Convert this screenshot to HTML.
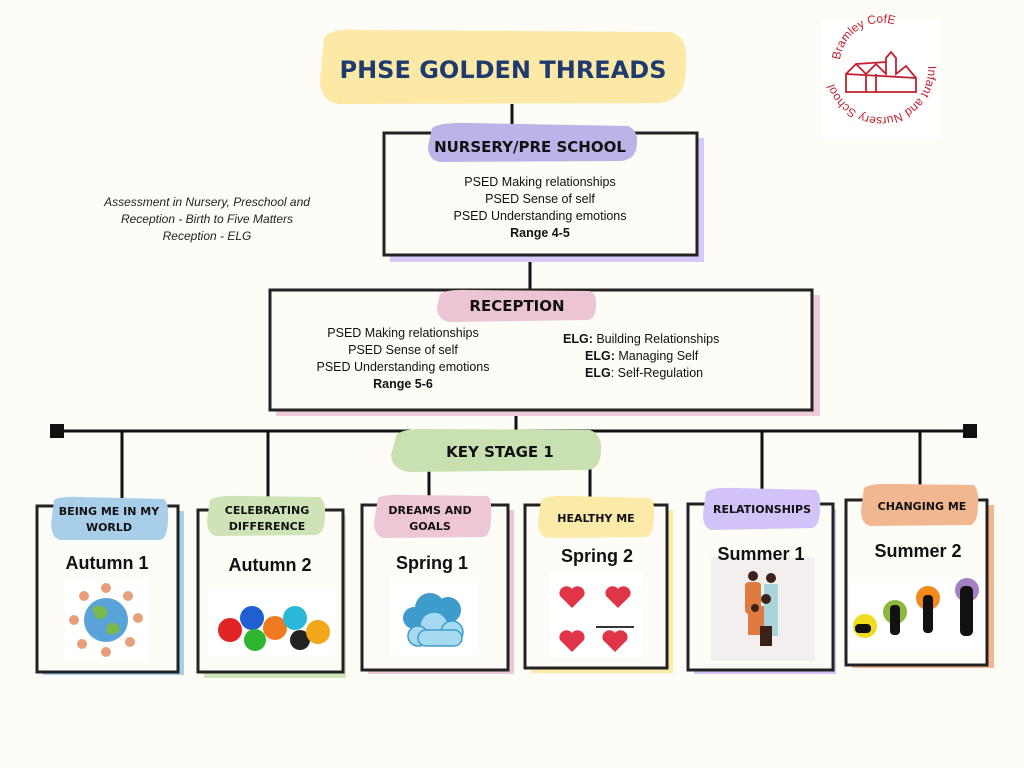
<!DOCTYPE html>
<html><head><meta charset="utf-8"><style>
html,body{margin:0;padding:0;background:#fdfcf6;}
svg{display:block}
.h{font-family:"DejaVu Sans","Liberation Sans",sans-serif;font-weight:bold;fill:#111;}
.b{font-family:"Liberation Sans",sans-serif;fill:#111;}
</style></head><body>
<svg width="1024" height="768" viewBox="0 0 1024 768" xmlns="http://www.w3.org/2000/svg">
<rect width="1024" height="768" fill="#fdfcf6"/>
<g stroke="#111" stroke-width="3" fill="none">
<line x1="512" y1="104" x2="512" y2="133"/>
<line x1="530" y1="256" x2="530" y2="290"/>
<line x1="516" y1="410" x2="516" y2="431"/>
<line x1="57" y1="431" x2="970" y2="431"/>
<line x1="122" y1="431" x2="122" y2="507"/>
<line x1="268" y1="431" x2="268" y2="510"/>
<line x1="429" y1="431" x2="429" y2="505"/>
<line x1="590" y1="431" x2="590" y2="505"/>
<line x1="762" y1="431" x2="762" y2="504"/>
<line x1="920" y1="431" x2="920" y2="500"/>
</g>
<rect x="50" y="424" width="14" height="14" fill="#111"/>
<rect x="963" y="424" width="14" height="14" fill="#111"/>

<path d="M324 38 Q330 28 360 30 L670 32 Q688 36 686 62 Q688 100 660 103 L340 104 Q320 102 320 80 Z" fill="#fbe9a5"/>
<text x="503" y="78" text-anchor="middle" class="h" style="fill:#1f3a6e;font-size:24px;">PHSE GOLDEN THREADS</text>

<rect x="822" y="20" width="118" height="118" fill="#fff"/>
<g fill="none" stroke="#c3202f" stroke-width="1.8">
<path d="M846 92 L846 74 L856 64 L866 74 L876 64 L886 74 L886 58 L891 52 L896 58 L896 74 L906 66 L916 78 L916 92 Z"/>
<path d="M856 64 L886 62 M866 74 L866 92 M876 74 L876 92 M846 74 L916 78"/>
</g>
<path id="arc1" d="M840 70 A42 42 0 0 1 924 60" fill="none"/>
<text font-family="Liberation Sans,sans-serif" font-size="12" fill="#c3202f"><textPath href="#arc1" startOffset="10">Bramley CofE</textPath></text>
<path id="arc2" d="M928 66 A48 48 0 0 1 832 72" fill="none"/>
<text font-family="Liberation Sans,sans-serif" font-size="12" fill="#c3202f"><textPath href="#arc2">Infant and Nursery School</textPath></text>

<g font-family="Liberation Sans,sans-serif" font-style="italic" font-size="12" fill="#222" text-anchor="middle">
<text x="207" y="206">Assessment in Nursery, Preschool and</text>
<text x="207" y="223">Reception - Birth to Five Matters</text>
<text x="207" y="240">Reception - ELG</text>
</g>

<rect x="390" y="138" width="314" height="124" fill="#d6c8fb"/>
<rect x="384" y="133" width="313" height="122" fill="#fdfcf6" stroke="#222" stroke-width="3"/>
<path d="M432 128 Q440 122 470 123 L628 126 Q638 130 637 144 Q636 160 620 161 L440 162 Q428 160 428 146 Z" fill="#bcb4e8"/>
<text x="530" y="152" text-anchor="middle" class="h" style="font-size:15px;">NURSERY/PRE SCHOOL</text>
<g font-size="12.5" text-anchor="middle">
<text x="540" y="186" class="b">PSED Making relationships</text>
<text x="540" y="203" class="b">PSED Sense of self</text>
<text x="540" y="220" class="b">PSED Understanding emotions</text>
<text x="540" y="237" class="b" font-weight="bold">Range 4-5</text>
</g>

<rect x="276" y="295" width="544" height="121" fill="#efcbd9"/>
<rect x="270" y="290" width="542" height="120" fill="#fdfcf6" stroke="#222" stroke-width="3"/>
<path d="M440 294 Q446 289 470 290 L590 291 Q597 294 596 305 Q596 318 588 320 L450 322 Q437 320 437 307 Z" fill="#ecc4d4"/>
<text x="517" y="311" text-anchor="middle" class="h" style="font-size:15px;">RECEPTION</text>
<g font-size="12.5" text-anchor="middle">
<text x="403" y="337" class="b">PSED Making relationships</text>
<text x="403" y="354" class="b">PSED Sense of self</text>
<text x="403" y="371" class="b">PSED Understanding emotions</text>
<text x="403" y="388" class="b" font-weight="bold">Range 5-6</text>
</g>
<g font-size="12.5">
<text x="563" y="343" class="b"><tspan font-weight="bold">ELG:</tspan> Building Relationships</text>
<text x="585" y="360" class="b"><tspan font-weight="bold">ELG:</tspan> Managing Self</text>
<text x="585" y="377" class="b"><tspan font-weight="bold">ELG</tspan>: Self-Regulation</text>
</g>

<path d="M396 436 Q400 428 430 429 L590 430 Q602 434 601 450 Q601 468 588 470 L410 472 Q392 470 391 455 Z" fill="#c9e0b0"/>
<text x="500" y="457" text-anchor="middle" class="h" style="font-size:15px;">KEY STAGE 1</text>

<g>
<rect x="43" y="511" width="141" height="164" fill="#a8cfea"/>
<rect x="37" y="506" width="141" height="166" fill="#fdfcf6" stroke="#222" stroke-width="3"/>
<path d="M54 500 Q60 496 80 497 L164 499 Q169 503 168 518 Q168 538 160 540 L60 540 Q52 538 51 525 Z" fill="#a8cfea"/>
<text x="109" y="515" text-anchor="middle" class="h" style="font-size:11px;">BEING ME IN MY</text>
<text x="109" y="531" text-anchor="middle" class="h" style="font-size:11px;">WORLD</text>
<text x="107" y="569" text-anchor="middle" class="b" style="font-size:18px;font-weight:bold;">Autumn 1</text>
<rect x="65" y="580" width="83" height="80" fill="#fff"/>
<circle cx="106" cy="620" r="22" fill="#5aa3d9"/><path d="M92 608 q10 -6 16 4 q-4 10 -12 6 z M108 624 q10 -4 12 6 q-8 8 -14 2 z" fill="#79b84a"/>
<g fill="#e8a07a"><circle cx="106" cy="588" r="5"/><circle cx="128" cy="596" r="5"/><circle cx="138" cy="618" r="5"/><circle cx="130" cy="642" r="5"/><circle cx="106" cy="652" r="5"/><circle cx="82" cy="644" r="5"/><circle cx="74" cy="620" r="5"/><circle cx="84" cy="596" r="5"/></g>
</g>

<g>
<rect x="204" y="515" width="142" height="163" fill="#cfe4b6"/>
<rect x="198" y="510" width="145" height="162" fill="#fdfcf6" stroke="#222" stroke-width="3"/>
<path d="M210 500 Q216 495 240 496 L320 497 Q326 502 325 515 Q325 533 316 535 L216 536 Q207 534 207 520 Z" fill="#cfe4b6"/>
<text x="267" y="514" text-anchor="middle" class="h" style="font-size:11px;">CELEBRATING</text>
<text x="267" y="530" text-anchor="middle" class="h" style="font-size:11px;">DIFFERENCE</text>
<text x="270" y="571" text-anchor="middle" class="b" style="font-size:18px;font-weight:bold;">Autumn 2</text>
<rect x="208" y="590" width="127" height="65" fill="#fff"/>
<circle cx="230" cy="630" r="12" fill="#e02424"/><circle cx="252" cy="618" r="12" fill="#1f5fd0"/><circle cx="255" cy="640" r="11" fill="#2fb52f"/><circle cx="275" cy="628" r="12" fill="#f07a20"/><circle cx="295" cy="618" r="12" fill="#2ab7d8"/><circle cx="300" cy="640" r="10" fill="#222"/><circle cx="318" cy="632" r="12" fill="#f0a81a"/>
</g>

<g>
<rect x="368" y="510" width="146" height="164" fill="#efc6d6"/>
<rect x="362" y="505" width="146" height="165" fill="#fdfcf6" stroke="#222" stroke-width="3"/>
<path d="M378 498 Q384 494 410 495 L488 496 Q492 501 491 515 Q491 535 484 537 L384 538 Q374 536 374 522 Z" fill="#efc6d6"/>
<text x="430" y="514" text-anchor="middle" class="h" style="font-size:11px;">DREAMS AND</text>
<text x="430" y="530" text-anchor="middle" class="h" style="font-size:11px;">GOALS</text>
<text x="432" y="569" text-anchor="middle" class="b" style="font-size:18px;font-weight:bold;">Spring 1</text>
<rect x="391" y="578" width="87" height="77" fill="#fff"/>
<g fill="#3e9ccc"><circle cx="430" cy="608" r="15"/><circle cx="448" cy="610" r="13"/><circle cx="414" cy="618" r="11"/></g>
<g fill="#a6daf0" stroke="#3e9ccc" stroke-width="1.5"><circle cx="434" cy="626" r="14"/><circle cx="452" cy="632" r="11"/><circle cx="418" cy="636" r="10"/><rect x="418" y="630" width="44" height="16" rx="8"/></g>
</g>

<g>
<rect x="531" y="510" width="142" height="163" fill="#fbeaa8"/>
<rect x="525" y="505" width="142" height="163" fill="#fdfcf6" stroke="#222" stroke-width="3"/>
<path d="M541 500 Q547 495 570 496 L650 498 Q655 502 654 515 Q654 535 646 537 L548 538 Q538 536 538 522 Z" fill="#fbeaa8"/>
<text x="596" y="522" text-anchor="middle" class="h" style="font-size:11px;">HEALTHY ME</text>
<text x="597" y="562" text-anchor="middle" class="b" style="font-size:18px;font-weight:bold;">Spring 2</text>
<rect x="550" y="572" width="92" height="85" fill="#fff"/>
<g fill="#e03447"><path d="M572 608 l-12 -12 a7 7 0 0 1 12 -7 a7 7 0 0 1 12 7 z"/><path d="M618 608 l-12 -12 a7 7 0 0 1 12 -7 a7 7 0 0 1 12 7 z"/><path d="M572 652 l-12 -12 a7 7 0 0 1 12 -7 a7 7 0 0 1 12 7 z"/><path d="M615 652 l-12 -12 a7 7 0 0 1 12 -7 a7 7 0 0 1 12 7 z"/></g>
<line x1="596" y1="627" x2="634" y2="627" stroke="#333" stroke-width="2"/>
</g>

<g>
<rect x="694" y="509" width="142" height="165" fill="#d3c2f7"/>
<rect x="688" y="504" width="145" height="166" fill="#fdfcf6" stroke="#222" stroke-width="3"/>
<path d="M706 492 Q712 487 735 488 L816 490 Q821 494 820 508 Q820 526 812 528 L712 530 Q703 528 703 514 Z" fill="#d3c2f7"/>
<text x="762" y="513" text-anchor="middle" class="h" style="font-size:11px;">RELATIONSHIPS</text>
<rect x="711" y="557" width="104" height="104" fill="#f3efee"/>
<text x="761" y="560" text-anchor="middle" class="b" style="font-size:18px;font-weight:bold;">Summer 1</text>
<g fill="#e07b3f"><rect x="745" y="582" width="16" height="32" rx="4"/><rect x="748" y="613" width="14" height="22"/><rect x="758" y="606" width="16" height="20"/></g>
<rect x="764" y="584" width="14" height="52" fill="#a9d5d8"/>
<g fill="#3a2218"><circle cx="753" cy="576" r="5"/><circle cx="771" cy="578" r="5"/><circle cx="766" cy="599" r="5"/><circle cx="755" cy="608" r="4"/><rect x="760" y="626" width="12" height="20"/></g>
</g>

<g>
<rect x="852" y="505" width="142" height="163" fill="#f1b890"/>
<rect x="846" y="500" width="141" height="165" fill="#fdfcf6" stroke="#222" stroke-width="3"/>
<path d="M864 488 Q870 483 895 484 L974 485 Q979 490 978 505 Q978 523 970 525 L870 526 Q861 524 861 510 Z" fill="#f1b890"/>
<text x="922" y="510" text-anchor="middle" class="h" style="font-size:11px;">CHANGING ME</text>
<text x="918" y="557" text-anchor="middle" class="b" style="font-size:18px;font-weight:bold;">Summer 2</text>
<rect x="850" y="578" width="135" height="72" fill="#fff"/>
<circle cx="865" cy="626" r="12" fill="#f0dc1e"/><circle cx="895" cy="612" r="12" fill="#8ab83a"/><circle cx="928" cy="598" r="12" fill="#f08a1a"/><circle cx="967" cy="590" r="12" fill="#a57fc4"/>
<g fill="#111"><rect x="855" y="624" width="16" height="9" rx="4"/><rect x="890" y="605" width="10" height="30" rx="4"/><rect x="923" y="595" width="10" height="38" rx="4"/><rect x="960" y="586" width="13" height="50" rx="5"/></g>
</g>
</svg>
</body></html>
